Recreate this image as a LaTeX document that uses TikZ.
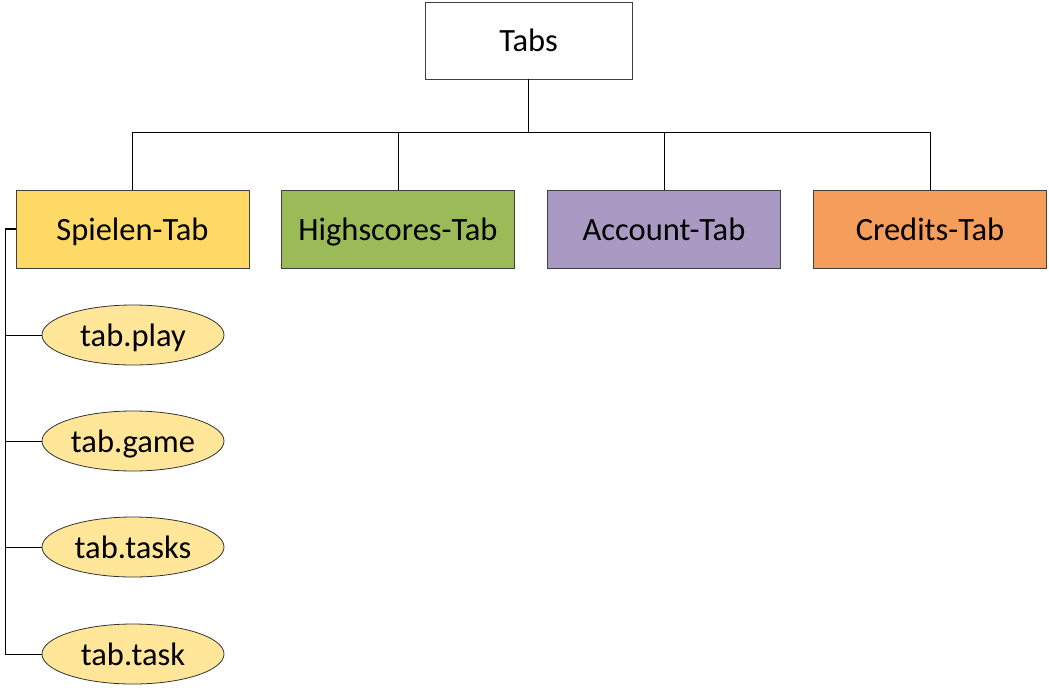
\documentclass[tikz,border=0pt]{standalone}
\usepackage{fontspec}
\setmainfont{Carlito}
\usetikzlibrary{shapes.geometric}
\definecolor{cyel}{HTML}{FFD966}
\definecolor{cgrn}{HTML}{9BBB59}
\definecolor{cpur}{HTML}{A99AC3}
\definecolor{corg}{HTML}{F59D5A}
\definecolor{cell}{HTML}{FFE699}
\tikzset{
  txt/.style={font=\fontsize{32.5}{38}\selectfont, text height=27pt, text depth=5pt},
  tabbox/.style={txt, draw=black!75, line width=0.8pt, minimum width=233pt, minimum height=78pt, inner sep=0pt},
  ell/.style={txt, ellipse, draw=black!80, line width=0.8pt, fill=cell, minimum width=182pt, minimum height=60pt, inner sep=0pt},
  conn/.style={line width=0.8pt, black}
}
\begin{document}
\begin{tikzpicture}[x=1pt,y=-1pt]
\useasboundingbox (0,0) rectangle (1049,694);
\node[tabbox, fill=white, minimum width=207pt, minimum height=77pt] (tabs) at (528.5,40.5) {Tabs};
\node[tabbox, fill=cyel] (sp) at (132.5,229) {Spielen-Tab};
\node[tabbox, fill=cgrn] (hs) at (398,229) {Highscores-Tab};
\node[tabbox, fill=cpur] (ac) at (664,229) {Account-Tab};
\node[tabbox, fill=corg] (cr) at (930,229) {Credits-Tab};
\node[ell] (e1) at (133,335) {tab.play};
\node[ell] (e2) at (133,441) {tab.game};
\node[ell] (e3) at (133,547) {tab.tasks};
\node[ell] (e4) at (133,654) {tab.task};
\coordinate (bus) at (528.5,132);
\coordinate (busl) at (sp.north |- bus);
\coordinate (busr) at (cr.north |- bus);
\draw[line width=1.6pt] (tabs.south) -- (bus);
\draw[conn] (sp.north) -- (busl) -- (busr) -- (cr.north);
\draw[conn] (hs.north) -- (hs.north |- bus);
\draw[conn] (ac.north) -- (ac.north |- bus);
\coordinate (lb) at (5,229);
\draw[line width=1.6pt] (sp.west) -- (lb);
\draw[conn] (lb) |- (e4.west);
\draw[conn] (lb |- e1.west) -- (e1.west);
\draw[conn] (lb |- e2.west) -- (e2.west);
\draw[conn] (lb |- e3.west) -- (e3.west);
\end{tikzpicture}
\end{document}
